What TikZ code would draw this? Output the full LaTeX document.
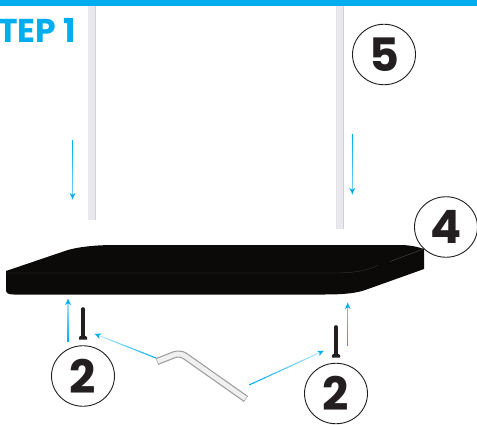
\documentclass[tikz,border=0pt]{standalone}
\usepackage{fontspec}
\setmainfont{Poppins}
\usetikzlibrary{calc,arrows.meta,shapes.geometric}
\definecolor{cy}{HTML}{00AEEF}
\definecolor{ink}{HTML}{231F20}
\definecolor{boardc}{HTML}{0C0A08}
\definecolor{polec}{HTML}{E8E8EE}
\tikzset{
  numc/.style={ellipse,draw=ink,line width=0.9pt,fill=none,minimum width=63pt,minimum height=60.5pt,inner sep=0pt,text=ink,font=\fontsize{46}{46}\selectfont\bfseries},
  polebar/.style={fill=polec,draw=none},
  poleedge/.style={draw=black!18,line width=0.9pt},
  screwc/.style={draw=ink,line width=3.6pt,line cap=round},
  heada/.style={fill=cy,draw=none}
}
\newcommand{\fadearrow}[3]{% from, to, fade amount
  \foreach \i in {0,...,19}{
    \pgfmathsetmacro{\aa}{\i/20}
    \pgfmathsetmacro{\bb}{(\i+1.2)/20}
    \pgfmathsetmacro{\cc}{100-#3*\i/19}
    \draw[cy!\cc!white,line width=1.05pt] ($(#1)!\aa!(#2)$) -- ($(#1)!\bb!(#2)$);
  }
  \path[heada] ($(#2)!6pt!(#1)$) coordinate (hb)
    (#2) -- ($(hb)!3pt!90:(#2)$) -- ($(#2)!4.2pt!(#1)$) -- ($(hb)!3pt!-90:(#2)$) -- cycle;
}
\begin{document}
\begin{tikzpicture}[x=1pt,y=-1pt]
\useasboundingbox (0,0) rectangle (477,425);
\fill[white] (0,0) rectangle (477,425);
\fill[cy] (0,0) rectangle (477,6);
\node[anchor=base east,inner sep=0pt,text=cy,font=\fontsize{33}{33}\selectfont\bfseries] (title) at (76,43) {TEP 1};
% poles
\fill[polebar] (88,6) rectangle (95.6,220);
\draw[poleedge] (95.2,6) -- (95.2,220);
\draw[draw=black!8,line width=0.5pt] (88.2,6) -- (88.2,220);
\fill[polebar] (336,6) rectangle (344,229);
\draw[poleedge] (343.6,6) -- (343.6,229);
\draw[draw=black!10,line width=0.5pt] (336.2,6) -- (336.2,229);
% board
\fill[boardc] (6,271) -- (62,252) .. controls (72,248) and (90,245) .. (115,245)
  -- (400,245) .. controls (410,245) and (418,247) .. (424,249)
  -- (424,269) -- (368,289) .. controls (358,293) and (345,294.5) .. (325,294.5)
  -- (14,294.5) .. controls (8,294.5) and (6,293) .. (6,290) -- cycle;
\draw[black!78!white,line width=0.35pt] (6,273) -- (335,273) .. controls (355,273) and (370,270) .. (378,265);
\draw[black!68!white,line width=0.35pt] (390,261.5) -- (422,249.5);
% screws
\coordinate (s1t) at (83,309); \coordinate (s1b) at (83,337);
\coordinate (s2t) at (336,327); \coordinate (s2b) at (336,355);
\draw[screwc] (s1t) -- (s1b);
\fill[ink] (79,339.6) -- (79,337) .. controls (81,335) and (85,335) .. (87,337) -- (87,339.6) -- cycle;
\draw[screwc] (s2t) -- (s2b);
\fill[ink] (332,357.6) -- (332,355) .. controls (334,353) and (338,353) .. (340,355) -- (340,357.6) -- cycle;
% key
\coordinate (k1) at (157,361.5);
\coordinate (k2) at (180,352.5);
\coordinate (k3) at (246,399);
\draw[black!38,line width=7.2pt,line join=round,rounded corners=6pt] (k1) -- (k2) -- (k3);
\draw[black!6,line width=4.8pt,rounded corners=6pt] ($(k1)!0.6pt!(k2)$) -- (k2) -- ($(k3)!0.6pt!(k2)$);
% arrows
\coordinate (a1s) at (72.5,140); \coordinate (a1e) at (72.5,199);
\coordinate (a2s) at (352.3,134); \coordinate (a2e) at (352.3,194);
\coordinate (a3s) at (68,342); \coordinate (a3e) at (68,299);
\coordinate (a4s) at (347.7,346); \coordinate (a4e) at (347.7,303);
\coordinate (a5s) at (156,358); \coordinate (a5e) at (95,334);
\coordinate (a6s) at (249,385); \coordinate (a6e) at (323.5,351);
\fadearrow{a1s}{a1e}{45}
\fadearrow{a2s}{a2e}{45}
\fadearrow{a3s}{a3e}{70}
\fadearrow{a4s}{a4e}{40}
\fadearrow{a5s}{a5e}{80}
\fadearrow{a6s}{a6e}{75}
% number circles
\node[numc] (n5) at (384,54.5) {5};
\node[numc] (n4) at (446,227) {4};
\node[numc] (n2a) at (83,376) {2};
\node[numc] (n2b) at (336,393.5) {2};
\end{tikzpicture}
\end{document}
